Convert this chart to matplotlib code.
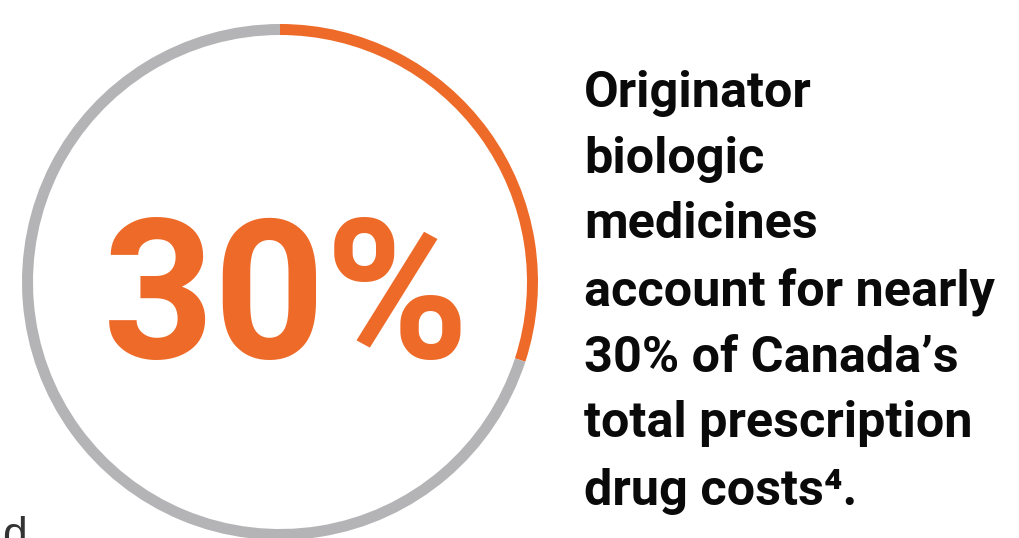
import matplotlib
matplotlib.use('Agg')
import matplotlib.pyplot as plt

# data
share = [30, 70]
ring_colors = ['#EE6A28', '#B4B4B6']
big_label = '30%'
text_lines = ['Originator', 'biologic', 'medicines', 'account for nearly',
              '30% of Canada\u2019s', 'total prescription', 'drug costs\u2074.']
stray_label = 'd'

H = 538
plt.rcParams['font.family'] = ['Roboto', 'Liberation Sans', 'DejaVu Sans']

fig = plt.figure(figsize=(10.2, 5.38), dpi=100)
ax = fig.add_axes([0, 0, 1, 1])

# ring
ax.pie(share, colors=ring_colors, startangle=90, counterclock=False,
       center=(280, H - 282), radius=258,
       wedgeprops=dict(width=11, linewidth=0))

ax.set_xlim(0, 1020)
ax.set_ylim(0, H)
ax.set_aspect('auto')
ax.axis('off')

ax.text(286, H - 358, big_label, ha='center', va='baseline',
        fontsize=140, fontweight='bold', color=ring_colors[0])

baselines = [107, 173, 238, 305, 372, 437, 505]
for line, b in zip(text_lines, baselines):
    ax.text(584, H - b, line, ha='left', va='baseline',
            fontsize=36.3, fontweight='bold', color='#0a0a0a')

ax.text(2, H - 548, stray_label, ha='left', va='baseline',
        fontsize=32, color='#333333', family=['Liberation Sans', 'DejaVu Sans'])

fig.savefig('out.png', dpi=100, facecolor='white')
